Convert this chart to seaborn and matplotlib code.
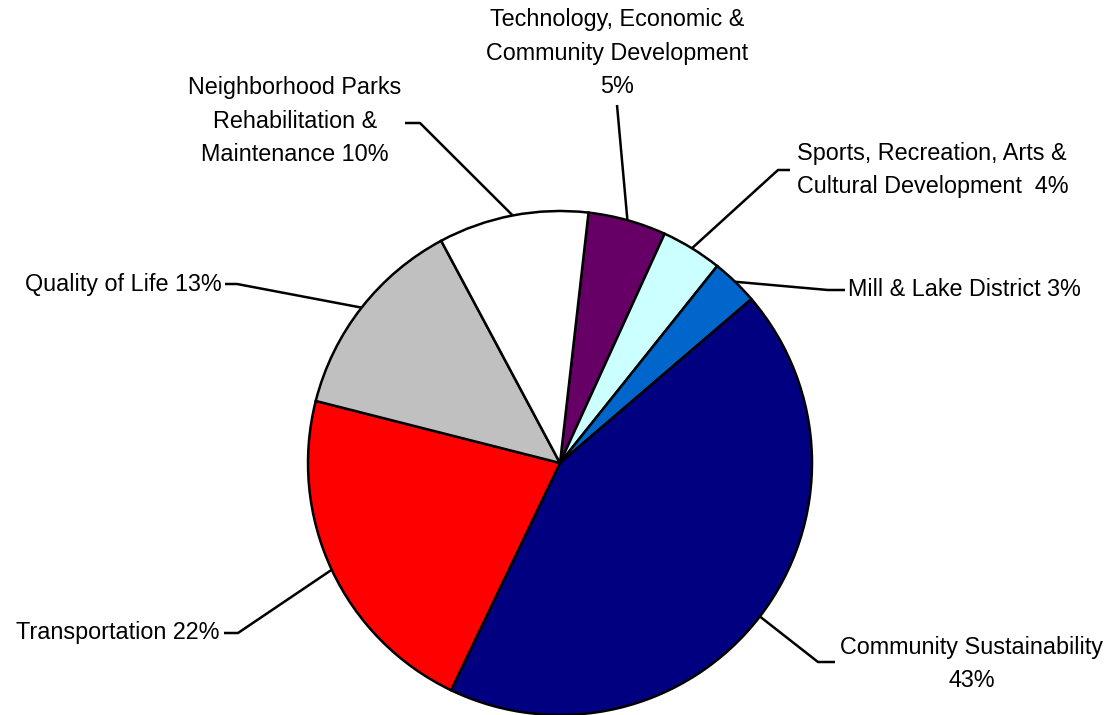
import matplotlib
matplotlib.use("Agg")
import matplotlib.pyplot as plt
import seaborn as sns
import numpy as np

sns.set_theme(style="white")
plt.rcParams["font.family"] = ["Liberation Sans", "DejaVu Sans"]

# ---- data ----
categories = [
    "Technology, Economic &\nCommunity Development\n",
    "Sports, Recreation, Arts &\nCultural Development  ",
    "Mill & Lake District ",
    "Community Sustainability\n",
    "Transportation ",
    "Quality of Life ",
    "Neighborhood Parks\nRehabilitation &\nMaintenance ",
]
values = [5.0, 3.9, 3.0, 43.3, 21.8, 13.2, 9.6]
colors = ["#660066", "#CCFFFF", "#0066CC", "#000080", "#FF0000", "#C0C0C0", "#FFFFFF"]

# ---- layout (pixel positions of the labels/leader elbows) ----
W, H = 1112, 715
CX, CY, R = 560, 463, 252  # pie centre/radius in pixels


def px(x, y):
    return ((x - CX) / R, (CY - y) / R)


label_layout = [
    # elbow, end, text pos, ha, multialign
    (None, (617, 105), (617, 53), "center", "center"),
    ((778, 170), (790, 170), (797, 170), "left", "left"),
    ((828, 290), (845, 290), (848, 290), "left", "left"),
    ((818, 662), (835, 662), (972, 664), "center", "center"),
    ((238, 633), (224, 633), (219, 633), "right", "right"),
    ((237, 284), (225, 284), (222, 284), "right", "right"),
    ((420, 123), (405, 123), (295, 121), "center", "center"),
]

fig = plt.figure(figsize=(W / 100, H / 100), dpi=100)
ax = fig.add_axes([0, 0, 1, 1])

wedges, _ = ax.pie(
    values,
    colors=colors,
    startangle=83.5,
    counterclock=False,
    radius=1.0,
    center=(0, 0),
    wedgeprops=dict(edgecolor="black", linewidth=1.8),
)
ax.set_xlim(-CX / R, (W - CX) / R)
ax.set_ylim((CY - H) / R, CY / R)
ax.set_aspect("equal")
ax.axis("off")

total = sum(values)
for w, cat, val, (elbow, end, tpos, ha, ma) in zip(wedges, categories, values, label_layout):
    mid = np.deg2rad((w.theta1 + w.theta2) / 2)
    start = (np.cos(mid), np.sin(mid))
    pts = [start]
    if elbow is not None:
        pts.append(px(*elbow))
    pts.append(px(*end))
    xs, ys = zip(*pts)
    ax.plot(xs, ys, color="black", lw=1.8, solid_capstyle="butt", zorder=3, clip_on=False)
    pct = round(val / total * 100)
    ax.text(*px(*tpos), f"{cat}{pct}%", ha=ha, va="center", multialignment=ma,
            fontsize=16.8, color="black", linespacing=1.58)

fig.savefig("out.png", dpi=100, facecolor="white")
